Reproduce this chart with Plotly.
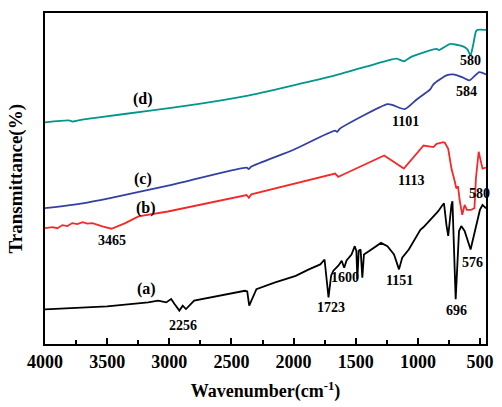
import plotly.graph_objects as go

# FTIR spectra, vertically offset (arbitrary transmittance units)
wn_a = [4000, 3850, 3500, 3170, 3090, 3025, 2985, 2958, 2919, 2892, 2866, 2839, 2800,
        2392, 2373, 2357, 2339, 2299, 2154, 1983, 1877, 1785, 1751, 1732, 1719, 1698,
        1680, 1640, 1613, 1593, 1574, 1534, 1508, 1495, 1487, 1476, 1461, 1447, 1434,
        1389, 1297, 1245, 1192, 1152, 1126, 1073, 1033, 980, 954, 875, 836, 809, 790,
        770, 756, 730, 722, 696, 669, 651, 624, 576, 533, 501, 480, 452]
t_a = [35, 36, 38, 42, 43.7, 42, 45.3, 40.3, 33.7, 38.7, 35.3, 38.7, 43.7,
       53.7, 53, 38.7, 43.7, 55.3, 62, 68.7, 75.3, 80.3, 85.3, 64, 47, 69,
       74, 79, 84, 77, 84.3, 90.3, 98.7, 94, 65.3, 94, 95.3, 67, 90.3,
       94, 102, 98.7, 90.3, 75.3, 87, 95.3, 103.7, 115.3, 118, 129, 134, 139, 142,
       120, 109, 140.3, 144, 45.3, 114, 119, 114, 95.3, 117, 135.3, 140.3, 137]

wn_b = [4000, 3940, 3900, 3860, 3820, 3780, 3740, 3697, 3660, 3618, 3539, 3465, 3354,
        3248, 3011, 2378, 2360, 2340, 1666, 1640, 1600, 1271, 1113, 994, 954, 875,
        849, 796, 783, 756, 730, 703, 691, 677, 664, 643, 624, 606, 572, 545, 533,
        511, 493, 480, 452]
t_b = [117, 118, 116.8, 120, 119, 122, 121, 123, 121.5, 122, 118.7, 116.3, 122,
       128.7, 133.7, 150.3, 147.5, 151, 172, 168.7, 171, 190.3, 177, 195.3, 200.3, 198.7,
       202, 203.7, 203, 197, 177, 164, 157, 159, 145.3, 130.3, 140.3, 135.3, 135.3, 137, 167,
       194, 182, 177, 178]

wn_c = [4000, 3697, 3486, 3000, 2378, 2360, 2340, 2000, 1666, 1650, 1630, 1245, 1200,
        1105, 1007, 901, 875, 770, 717, 640, 585, 506, 452]
t_c = [137, 142, 147, 160, 178, 176.5, 179, 196, 215.3, 214, 217, 242, 241,
       237, 247, 257, 262, 271, 272, 269, 266, 274.3, 272]

wn_d = [4000, 3800, 3780, 3700, 3565, 3169, 2774, 2378, 2000, 1666, 1245, 1170,
        1113, 1050, 849, 830, 743, 637, 600, 577, 555, 533, 520, 452]
t_d = [223.7, 225.5, 224.5, 226.5, 228.7, 235.3, 242, 250.3, 261, 271, 286, 288,
       285.3, 290, 297.7, 296.5, 302.7, 300.3, 297, 291, 302, 315.3, 317, 317]

series = [
    ("(a)", wn_a, t_a, "#000000", "linear"),
    ("(b)", wn_b, t_b, "#f22a2a", "linear"),
    ("(c)", wn_c, t_c, "#3340a3", "spline"),
    ("(d)", wn_d, t_d, "#00968c", "spline"),
]

# Curve labels (text, wavenumber, transmittance)
curve_labels = [("(a)", 3185, 55), ("(b)", 3185, 137), ("(c)", 3209, 167), ("(d)", 3209, 247)]

# Band position labels
peak_labels = [
    ("3465", 3462, 104), ("2256", 2892, 19), ("1723", 1698, 37), ("1600", 1587, 67),
    ("1151", 1144, 64), ("696", 693, 34), ("576", 559, 82), ("1113", 1057, 165),
    ("580", 503, 152), ("1101", 1097, 225), ("584", 606, 255), ("580", 574, 286),
]

x_ticks = [4000, 3500, 3000, 2500, 2000, 1500, 1000, 500]

FONT = "Liberation Serif"

fig = go.Figure()
for name, wn, t, color, shape in series:
    line = dict(color=color, width=1.8, shape=shape)
    if shape == "spline":
        line["smoothing"] = 0.6
    fig.add_trace(go.Scatter(x=wn, y=t, mode="lines", name=name, line=line))

for text, x, y in curve_labels:
    fig.add_annotation(x=x, y=y, text=text, showarrow=False,
                       font=dict(family=FONT, size=16, color="#000", weight="bold"))
for text, x, y in peak_labels:
    fig.add_annotation(x=x, y=y, text=text, showarrow=False,
                       font=dict(family=FONT, size=14, color="#000", weight="bold"))

fig.add_annotation(xref="paper", yref="paper", x=0, y=0.5, xshift=-17,
                   xanchor="right", yanchor="middle", textangle=-90,
                   text="Transmittance(%)", showarrow=False,
                   font=dict(family=FONT, size=19, color="#000", weight="bold"))

fig.update_layout(
    width=502, height=407,
    margin=dict(l=45, r=9, t=13, b=61),
    paper_bgcolor="white", plot_bgcolor="white",
    showlegend=False,
    xaxis=dict(
        range=[4000, 452], tickvals=x_ticks, ticks="inside", ticklen=6, tickwidth=1.5,
        tickcolor="#000", showline=True, linecolor="#000", linewidth=1.8, mirror=True,
        showgrid=False, zeroline=False,
        minor=dict(dtick=250, ticks="inside", ticklen=4, tickwidth=1.5, tickcolor="#000"),
        tickfont=dict(family=FONT, size=18, color="#000", weight="bold"),
        title=dict(text="Wavenumber(cm<sup>-1</sup>)", standoff=14,
                   font=dict(family=FONT, size=18, color="#000", weight="bold")),
    ),
    yaxis=dict(
        range=[0, 334], showticklabels=False, ticks="", showline=True, linecolor="#000",
        linewidth=1.8, mirror=True, showgrid=False, zeroline=False,
    ),
)

fig.write_html("out.html")
